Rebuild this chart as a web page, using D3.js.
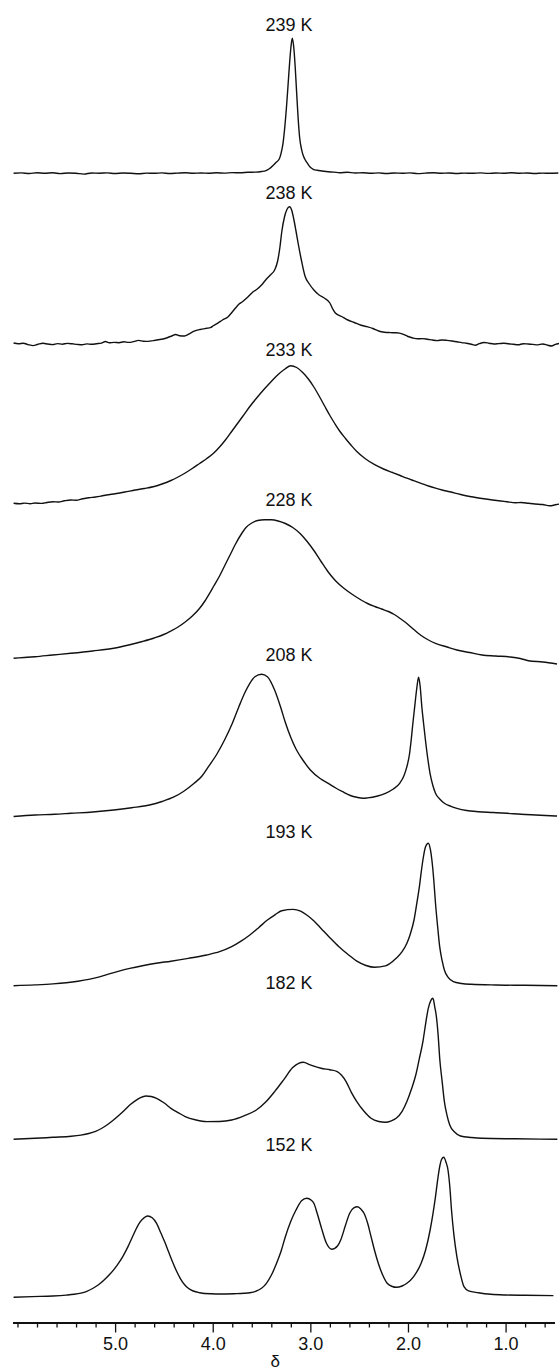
<!DOCTYPE html>
<html><head><meta charset="utf-8">
<script src="https://cdn.jsdelivr.net/npm/d3@7"></script>
<style>html,body{margin:0;padding:0;background:#fff}svg{display:block}</style>
</head><body>
<svg id="chart" width="559" height="1371"></svg>
<script>
// ---- data (chemical shift δ in ppm, intensity in arbitrary units above baseline) ----
const temperatures = ["239 K","238 K","233 K","228 K","208 K","193 K","182 K","152 K"];

const s239 = [[6.04,0],[5.96,0.4],[5.88,-0.2],[5.80,0.5],[5.72,0.1],[5.64,0.5],[5.56,-0.3],[5.48,0.3],[5.40,0],[5.32,-0.8],[5.24,0.3],[5.16,0.1],[5.08,0.4],[5.00,-0.2],[4.92,0.3],[4.84,0],[4.76,-0.5],[4.68,0.2],[4.60,0],[4.52,0.4],[4.44,-0.2],[4.36,0.2],[4.28,0.5],[4.20,0],[4.12,0.3],[4.04,0.1],[3.96,0.5],[3.88,0.2],[3.80,0.7],[3.72,0.5],[3.64,1.0],[3.56,1.2],[3.50,1.8],[3.46,2.5],[3.42,4.5],[3.38,8],[3.35,11],[3.32,14],[3.30,20],[3.28,30],[3.26,48],[3.24,72],[3.22,100],[3.20,125],[3.185,135],[3.17,126],[3.155,106],[3.14,80],[3.125,55],[3.11,36],[3.09,24],[3.07,17],[3.05,13],[3.03,10],[3.00,6],[2.97,4],[2.93,3],[2.88,2.3],[2.82,1.5],[2.76,1.2],[2.70,0.5],[2.62,1.0],[2.54,0.3],[2.46,0.6],[2.38,0],[2.30,0.4],[2.22,-0.2],[2.14,0.3],[2.06,0],[1.98,0.4],[1.90,-0.3],[1.82,0.2],[1.74,0.5],[1.66,0],[1.58,0.3],[1.50,-0.2],[1.42,0.2],[1.34,0],[1.26,0.4],[1.18,-0.1],[1.10,0.3],[1.02,0],[0.94,0.5],[0.86,0.1],[0.78,0.3],[0.70,-0.2],[0.62,0.2],[0.54,0],[0.46,0.3]];

const s238 = [[6.04,1],[5.99,0.3],[5.94,0.8],[5.89,-0.6],[5.84,-1.6],[5.79,-0.3],[5.74,0.7],[5.69,0],[5.64,-0.6],[5.59,0.4],[5.54,-0.2],[5.49,0.6],[5.44,0.2],[5.39,-0.4],[5.34,-0.8],[5.29,0.1],[5.24,-0.3],[5.19,0.3],[5.14,0.9],[5.10,2.5],[5.06,1.2],[5.01,1.6],[4.96,1.3],[4.91,2.2],[4.86,1.6],[4.81,2.4],[4.76,3.6],[4.71,2.8],[4.66,2.6],[4.61,3.4],[4.56,4.2],[4.51,5],[4.46,6.5],[4.42,8],[4.38,9.5],[4.34,8.3],[4.29,8],[4.24,10.2],[4.19,12.8],[4.13,14.5],[4.062,15.7],[4.025,16.3],[3.99,18.5],[3.952,20.7],[3.90,24],[3.842,27.3],[3.80,32],[3.769,35.7],[3.73,40],[3.696,42.3],[3.64,47],[3.586,52.3],[3.55,54.5],[3.50,59],[3.458,64],[3.41,69],[3.366,74],[3.335,83],[3.31,98],[3.293,112],[3.265,127],[3.24,134.5],[3.213,137.3],[3.19,133.5],[3.17,125],[3.147,113],[3.12,98],[3.092,84],[3.055,68],[3.01,60],[2.964,54],[2.91,49],[2.854,45.7],[2.80,41],[2.77,35],[2.744,31],[2.68,27.5],[2.616,24],[2.55,21.5],[2.487,19],[2.42,17.3],[2.36,15.5],[2.30,13],[2.24,11.8],[2.18,11.4],[2.12,11.2],[2.06,10.2],[2.00,7.5],[1.95,6],[1.90,5.2],[1.85,5.4],[1.80,4.8],[1.75,4],[1.70,3.4],[1.65,4],[1.60,3.6],[1.55,3],[1.50,2.3],[1.45,1.4],[1.40,0.8],[1.35,-0.2],[1.31,-1.3],[1.27,0.3],[1.22,1.5],[1.17,0.8],[1.12,0],[1.07,0.4],[1.02,0.8],[0.97,0.2],[0.92,-0.3],[0.87,-0.8],[0.82,0.3],[0.77,0],[0.72,-0.4],[0.67,-0.9],[0.62,0],[0.57,-1.2],[0.53,-2],[0.49,-0.4],[0.444,0.6]];

const s233 = [[6.04,0.7],[5.98,0.2],[5.93,0.9],[5.87,0.3],[5.82,1],[5.75,0.6],[5.70,1.5],[5.637,2.3],[5.58,2],[5.52,3.2],[5.454,4],[5.40,3.7],[5.33,5.3],[5.27,6.3],[5.20,7],[5.14,8],[5.088,9],[5.00,10.3],[4.90,12],[4.794,14],[4.70,15.5],[4.61,17.2],[4.52,20],[4.428,23.5],[4.355,27],[4.282,31],[4.21,35.5],[4.135,40.5],[4.06,45.5],[3.989,51],[3.93,57],[3.87,64],[3.806,72.5],[3.75,80],[3.69,88],[3.62,97.5],[3.55,106],[3.476,114.5],[3.40,122.5],[3.33,129.5],[3.26,135],[3.2,138.3],[3.14,136.5],[3.073,131],[3.02,125],[2.964,117],[2.91,108],[2.854,98],[2.80,88.5],[2.75,80.5],[2.70,73],[2.64,65.5],[2.58,58.5],[2.524,52.5],[2.44,45.5],[2.341,39.3],[2.25,35],[2.158,31.5],[2.08,28.5],[2.011,25.8],[1.94,23.3],[1.865,20.7],[1.79,18],[1.718,15.8],[1.65,14],[1.572,12.3],[1.46,9.5],[1.352,7.3],[1.24,5.5],[1.133,4],[1.05,3],[0.986,2.3],[0.90,1.3],[0.84,1.5],[0.766,0.7],[0.70,0],[0.62,-0.5],[0.547,-1.8],[0.49,-0.8],[0.444,0]];

const s228 = [[6.04,3.7],[5.93,4.5],[5.82,5.3],[5.64,7],[5.454,8.7],[5.23,11],[5.014,13.7],[4.86,17],[4.721,20.5],[4.60,24],[4.502,27.5],[4.43,31],[4.355,35],[4.282,40],[4.209,46],[4.14,53],[4.08,61],[4.03,69],[3.989,76],[3.93,86],[3.879,96],[3.82,107.5],[3.769,117.5],[3.70,129],[3.659,134.5],[3.60,139],[3.54,141.5],[3.47,142.3],[3.40,142.2],[3.33,141],[3.256,138.5],[3.18,134.5],[3.10,128],[3.037,121],[2.96,111],[2.89,100.5],[2.817,90],[2.74,81],[2.66,74],[2.561,67],[2.48,62],[2.414,58.5],[2.34,55.5],[2.27,53],[2.20,50.5],[2.14,47.5],[2.08,43.5],[2.011,38.5],[1.94,32.5],[1.865,26.5],[1.79,22],[1.718,18.7],[1.60,15],[1.499,12],[1.37,9.5],[1.242,7],[1.10,6],[0.95,5],[0.85,3.5],[0.766,1.3],[0.62,0],[0.473,-2]];

const s208 = [[6.04,0],[5.82,1.5],[5.62,2.2],[5.454,3.2],[5.23,4.5],[5.014,6.5],[4.83,8.8],[4.648,11.5],[4.52,15],[4.392,19.8],[4.30,25],[4.19,33.2],[4.11,40.5],[4.044,49.8],[3.96,62],[3.879,76.5],[3.80,93],[3.732,109.8],[3.67,124],[3.62,133.2],[3.568,139.8],[3.50,142.2],[3.44,139.8],[3.366,126.5],[3.30,108],[3.256,94],[3.20,79],[3.147,67.5],[3.07,55.5],[3.0,46.5],[2.90,38],[2.817,33.2],[2.74,28.5],[2.67,24.8],[2.59,21],[2.524,19.2],[2.46,18.2],[2.414,18.6],[2.32,20.3],[2.231,23.2],[2.15,27.5],[2.085,33.2],[2.04,41],[2.011,49.8],[1.985,62],[1.967,76.5],[1.95,93],[1.931,109.8],[1.91,128],[1.891,139.2],[1.875,130],[1.858,109.8],[1.84,93],[1.821,76.5],[1.80,60],[1.774,43.2],[1.745,31],[1.718,23.2],[1.67,17],[1.627,13.2],[1.56,10.2],[1.499,8.2],[1.40,6],[1.279,4.8],[1.13,4],[0.986,3.2],[0.84,2.2],[0.693,1.5],[0.473,0.5]];

const s193 = [[6.04,0],[5.82,0.8],[5.637,1.8],[5.50,3],[5.38,4.5],[5.27,6.3],[5.16,8.8],[5.06,11.8],[4.96,14.6],[4.85,17.3],[4.72,20],[4.58,22.5],[4.428,24.5],[4.25,27.3],[4.062,30.7],[3.93,34],[3.806,39],[3.71,44.5],[3.62,50.7],[3.53,58],[3.44,65.7],[3.36,71],[3.293,75],[3.176,76.3],[3.10,74.5],[3.037,70.7],[2.96,64.5],[2.89,57.3],[2.80,48],[2.707,39],[2.61,31],[2.524,24.5],[2.43,20.2],[2.341,18.4],[2.231,19.8],[2.121,27.4],[2.06,34],[2.011,42.4],[1.975,52],[1.938,65.7],[1.91,82],[1.883,99],[1.865,113],[1.847,125.7],[1.82,139],[1.792,142.4],[1.77,136],[1.755,125.7],[1.735,105],[1.718,82.4],[1.695,58],[1.675,39],[1.65,25],[1.627,15.7],[1.59,8.5],[1.535,4],[1.45,2.2],[1.352,1.4],[1.10,0.7],[0.80,0.4],[0.47,0]];

const s182 = [[6.04,0],[5.82,1],[5.637,2],[5.45,3],[5.35,4.2],[5.27,5.8],[5.20,8],[5.14,10.8],[5.08,14.5],[5.02,19],[4.96,24],[4.904,29],[4.85,34.3],[4.794,38.5],[4.74,41.7],[4.685,43.3],[4.63,42.8],[4.575,41],[4.50,36.5],[4.428,31],[4.35,26.5],[4.282,22.7],[4.17,19.3],[4.062,17.7],[3.93,17.8],[3.806,19.3],[3.68,23.5],[3.55,29.5],[3.46,37],[3.366,47.7],[3.27,60],[3.183,71.5],[3.12,76],[3.073,77],[3.0,74.5],[2.89,71],[2.80,69.5],[2.725,67.7],[2.68,64],[2.634,57.7],[2.58,47],[2.524,37.7],[2.45,28],[2.378,21],[2.30,17.8],[2.231,17],[2.17,18.5],[2.121,21],[2.06,28],[2.011,37.7],[1.965,50],[1.92,64.3],[1.885,80],[1.847,97.7],[1.82,115],[1.792,131],[1.765,139],[1.744,141],[1.725,132],[1.711,124.3],[1.69,103],[1.675,81],[1.65,58],[1.627,37.7],[1.60,24],[1.572,14.3],[1.52,7],[1.462,3.3],[1.35,1.8],[1.242,1],[0.90,0.5],[0.47,0]];

const s152 = [[6.04,-1],[5.85,-0.3],[5.637,0.3],[5.50,1.2],[5.42,2],[5.35,3.2],[5.29,5],[5.23,7.8],[5.17,11.5],[5.11,16.5],[5.05,22.5],[4.98,31],[4.92,40],[4.868,49.7],[4.81,62],[4.76,72],[4.72,77],[4.666,80.3],[4.62,78.5],[4.575,73],[4.53,63],[4.49,54],[4.45,44],[4.41,34],[4.37,25],[4.33,17.5],[4.29,11.8],[4.25,8],[4.20,5.3],[4.135,3.6],[4.02,2.5],[3.915,2.3],[3.78,2.6],[3.68,3],[3.62,3.6],[3.56,5],[3.50,8],[3.45,13],[3.40,21],[3.35,32],[3.30,45],[3.256,59.6],[3.20,75],[3.147,86.3],[3.09,95.5],[3.037,98],[2.99,96],[2.964,93],[2.93,83],[2.89,69.6],[2.835,53],[2.78,47],[2.72,50.5],[2.689,56.3],[2.64,71],[2.597,83],[2.555,88.5],[2.517,89.6],[2.48,87],[2.45,83],[2.41,72],[2.378,59.6],[2.34,45],[2.304,33],[2.26,21.5],[2.213,13],[2.16,9.8],[2.121,9],[2.06,10.3],[2.011,13],[1.94,20],[1.865,33],[1.82,46],[1.773,66.3],[1.745,82],[1.718,99.6],[1.695,117],[1.675,129.6],[1.655,137],[1.634,139],[1.61,134],[1.59,126.3],[1.57,108],[1.554,86.3],[1.53,62],[1.499,39.6],[1.46,21],[1.426,9.6],[1.38,5.5],[1.279,3.6],[1.15,2],[1.0,1.3],[0.80,1],[0.51,0.7]];

const spectra = [s239, s238, s233, s228, s208, s193, s182, s152];

const majorTicks = [5.0, 4.0, 3.0, 2.0, 1.0];
const majorTickLabels = ["5.0", "4.0", "3.0", "2.0", "1.0"];
const minorTicks = [6.0,5.8,5.6,5.4,5.2,4.8,4.6,4.4,4.2,3.8,3.6,3.4,3.2,2.8,2.6,2.4,2.2,1.8,1.6,1.4,1.2,0.8,0.6];
const axisTitle = "δ";

// ---- layout ----
const W = 559, H = 1371;
const baselines = [173.3, 344, 504, 662, 816.5, 985.7, 1139.3, 1296.3];
const labelBaselines = [31, 198.5, 356, 506, 660.5, 837.5, 989, 1151];
const labelX = 289;
const axisY = 1322.5;
const FONT = "'Liberation Sans', Arial, Helvetica, sans-serif";

const svg = d3.select("#chart");
svg.append("rect").attr("width", W).attr("height", H).attr("fill", "#fff");

const x = d3.scaleLinear().domain([6.05, 0.5]).range([12.6, 554.4]);

spectra.forEach((data, i) => {
  const y = d3.scaleLinear().domain([0, 150]).range([baselines[i], baselines[i] - 150]);
  const sorted = data.slice().sort((a, b) => b[0] - a[0]);
  const line = d3.line()
    .x(d => x(d[0]))
    .y(d => y(d[1]))
    .curve(d3.curveMonotoneX);
  svg.append("path")
    .datum(sorted)
    .attr("d", line)
    .attr("fill", "none")
    .attr("stroke", "#111")
    .attr("stroke-width", 1.4)
    .attr("stroke-linejoin", "round");
  svg.append("text")
    .attr("x", labelX)
    .attr("y", labelBaselines[i])
    .attr("text-anchor", "middle")
    .attr("font-family", FONT)
    .attr("font-size", 18)
    .attr("fill", "#111")
    .text(temperatures[i]);
});

// axis
const gMinor = svg.append("g").attr("transform", `translate(0,${axisY})`)
  .call(d3.axisBottom(x).tickValues(minorTicks).tickSize(5).tickSizeOuter(0).tickFormat(""));
const gMajor = svg.append("g").attr("transform", `translate(0,${axisY})`)
  .call(d3.axisBottom(x).tickValues(majorTicks).tickSize(10).tickSizeOuter(0).tickPadding(5)
    .tickFormat((d, i) => majorTickLabels[i]));
[gMinor, gMajor].forEach(g => {
  g.select(".domain").attr("stroke", "#111").attr("stroke-width", 1.8);
  g.selectAll(".tick line").attr("stroke", "#111").attr("stroke-width", 1.3);
});
gMajor.selectAll(".tick text").attr("font-family", FONT).attr("font-size", 18).attr("fill", "#111");

svg.append("text")
  .attr("x", x(3.36))
  .attr("y", 1366.5)
  .attr("text-anchor", "middle")
  .attr("font-family", FONT)
  .attr("font-size", 17)
  .attr("fill", "#111")
  .text(axisTitle);
</script>
</body></html>
